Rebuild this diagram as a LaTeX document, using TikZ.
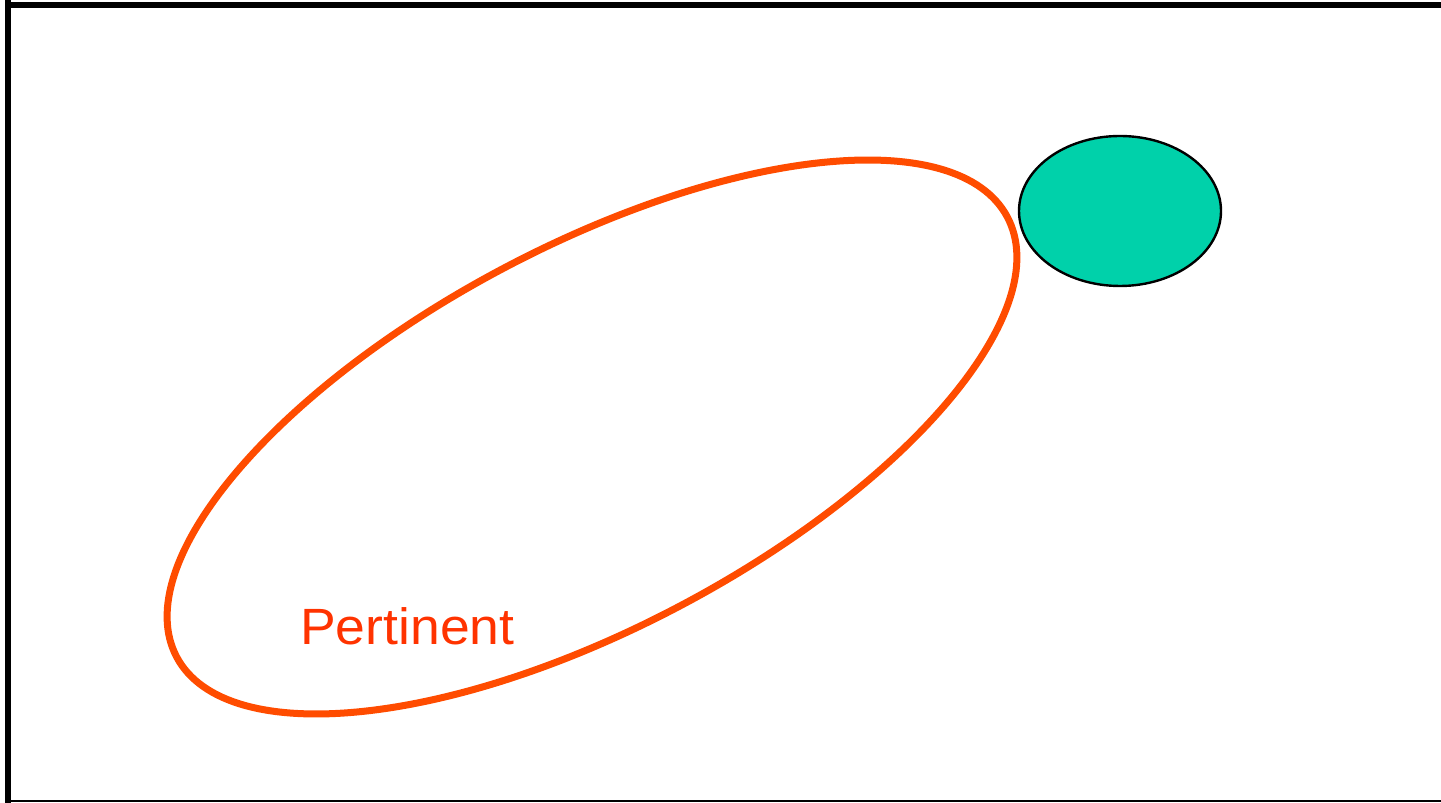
\documentclass[tikz,border=0pt]{standalone}
\usepackage{fontspec}
\setmainfont{Liberation Sans}
\usetikzlibrary{shapes.geometric}
\definecolor{setorange}{RGB}{255,76,0}
\definecolor{labelorange}{RGB}{255,51,0}
\definecolor{teal2}{RGB}{0,209,170}
\begin{document}
\begin{tikzpicture}[x=1pt,y=1pt,
  frame/.style={black,line cap=butt},
  pertset/.style={ellipse,draw=setorange,line width=7pt,inner sep=0pt,
    minimum width=940pt,minimum height=381pt,rotate=27.9},
  item/.style={ellipse,draw=black,fill=teal2,line width=2.4pt,inner sep=0pt,
    minimum width=202pt,minimum height=150pt},
  lbl/.style={text=labelorange,inner sep=0pt,anchor=base west,font=\fontsize{51}{60}\selectfont}]
\useasboundingbox (0,0) rectangle (1441,803);
\fill[white] (0,0) rectangle (1441,803);
% frame
\coordinate (tl) at (8,803);
\coordinate (bl) at (8,0);
\coordinate (tr) at (1441,798);
\coordinate (tl2) at (5,798);
\coordinate (br) at (1441,1.5);
\coordinate (bl2) at (5,1.5);
\draw[frame,line width=6pt] (tl) -- (bl);
\draw[frame,line width=6pt] (tl2) -- (tr);
\draw[frame,line width=2pt] (bl2) -- (br);
% shapes
\node[pertset] (pertinent) at (592,366) {};
\node[item] (element) at (1120,592) {};
\node[lbl,xscale=1.05] (label) at (300,158) {Pertinent};
\end{tikzpicture}
\end{document}
